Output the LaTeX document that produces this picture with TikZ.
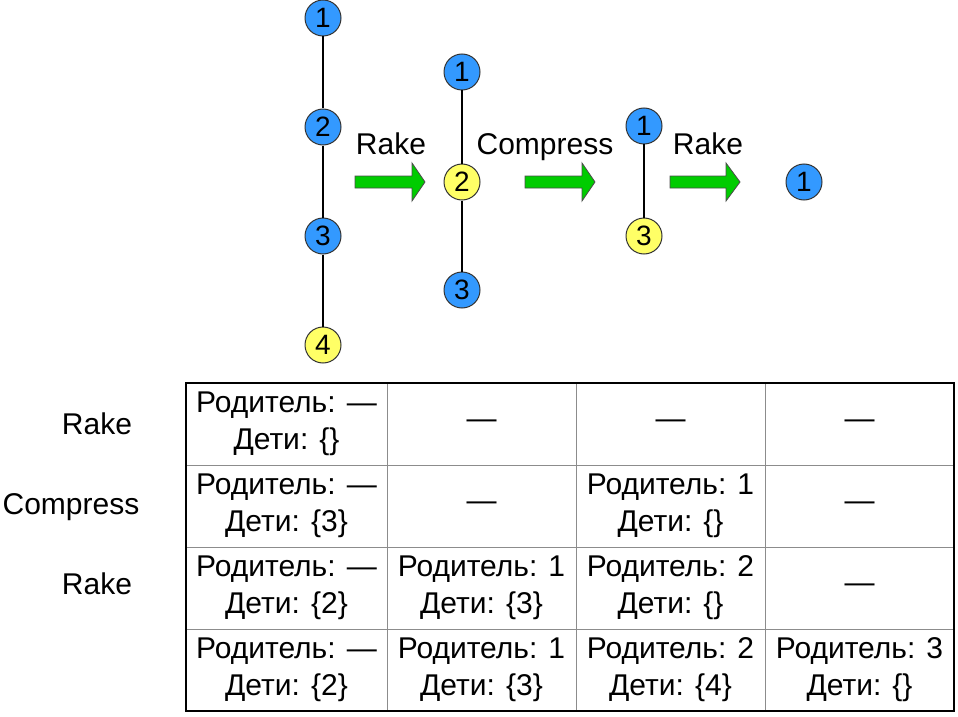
\documentclass[tikz,border=0pt]{standalone}
\usepackage{fontspec}
\setmainfont{Liberation Sans}
\definecolor{nodeblue}{RGB}{51,153,255}
\definecolor{nodeyellow}{RGB}{255,255,102}
\definecolor{arrowgreen}{RGB}{0,204,0}
\definecolor{gridgray}{RGB}{140,140,140}
\tikzset{
  bnode/.style={circle, draw=black!80, line width=0.5pt, fill=nodeblue, minimum size=18pt, inner sep=0pt, font=\fontsize{14}{16}\selectfont},
  ynode/.style={bnode, fill=nodeyellow},
  edge/.style={line width=1.3pt},
  garrow/.style={fill=arrowgreen, draw=black!70, line width=0.4pt},
  cell/.style={align=center, font=\fontsize{15}{18.5}\selectfont},
  lbl/.style={anchor=base, font=\fontsize{15}{18}\selectfont}
}
\begin{document}
\begin{tikzpicture}[x=0.5pt, y=-0.5pt]
        \useasboundingbox (0,0) rectangle (958,717);

        % 第一棵树
        \node[bnode] (a1) at (323,18) {1};
        \node[bnode] (a2) at (323,127) {2};
        \node[bnode] (a3) at (323,236) {3};
        \node[ynode] (a4) at (323,345) {4};
        \draw[edge] (a1) -- (a2);
        \draw[edge] (a2) -- (a3);
        \draw[edge] (a3) -- (a4);

        % 第二棵树
        \node[bnode] (b1) at (462,72) {1};
        \node[ynode] (b2) at (462,182) {2};
        \node[bnode] (b3) at (462,290) {3};
        \draw[edge] (b1) -- (b2);
        \draw[edge] (b2) -- (b3);

        % 第三棵树
        \node[bnode] (c1) at (644,126) {1};
        \node[ynode] (c3) at (644,236) {3};
        \draw[edge] (c1) -- (c3);

        % 最后只剩根
        \node[bnode] (d1) at (804,182) {1};

        % 绿色箭头
        \filldraw[garrow] (355,176) -- (412,176) -- (412,163) -- (425,182) -- (412,201) -- (412,188) -- (355,188) -- cycle; % Rake
        \filldraw[garrow] (525,176) -- (582,176) -- (582,163) -- (595,182) -- (582,201) -- (582,188) -- (525,188) -- cycle; % Compress
        \filldraw[garrow] (670,176) -- (726,176) -- (726,163) -- (740,182) -- (726,201) -- (726,188) -- (670,188) -- cycle; % Rake

        % 箭头上的标签
        \node[lbl] (op1) at (391,155) {Rake};
        \node[lbl] (op2) at (545,155) {Compress};
        \node[lbl] (op3) at (708,155) {Rake};

        % 表格
        \draw[gridgray, line width=0.5pt] (186,465) -- (954,465);
        \draw[gridgray, line width=0.5pt] (186,547) -- (954,547);
        \draw[gridgray, line width=0.5pt] (186,629) -- (954,629);
        \draw[gridgray, line width=0.5pt] (387,383) -- (387,711);
        \draw[gridgray, line width=0.5pt] (576,383) -- (576,711);
        \draw[gridgray, line width=0.5pt] (765,383) -- (765,711);
        \draw[line width=0.8pt] (186,383) rectangle (954,711);

        % 第一行
        \node[cell] (r1c1) at (286.5,424) {Родитель: —\\Дети: \{\}};
        \node[cell] (r1c2) at (481.5,424) {—};
        \node[cell] (r1c3) at (670.5,424) {—};
        \node[cell] (r1c4) at (859.5,424) {—};

        % 第二行
        \node[cell] (r2c1) at (286.5,506) {Родитель: —\\Дети: \{3\}};
        \node[cell] (r2c2) at (481.5,506) {—};
        \node[cell] (r2c3) at (670.5,506) {Родитель: 1\\Дети: \{\}};
        \node[cell] (r2c4) at (859.5,506) {—};

        % 第三行
        \node[cell] (r3c1) at (286.5,588) {Родитель: —\\Дети: \{2\}};
        \node[cell] (r3c2) at (481.5,588) {Родитель: 1\\Дети: \{3\}};
        \node[cell] (r3c3) at (670.5,588) {Родитель: 2\\Дети: \{\}};
        \node[cell] (r3c4) at (859.5,588) {—};

        % 第四行
        \node[cell] (r4c1) at (286.5,670) {Родитель: —\\Дети: \{2\}};
        \node[cell] (r4c2) at (481.5,670) {Родитель: 1\\Дети: \{3\}};
        \node[cell] (r4c3) at (670.5,670) {Родитель: 2\\Дети: \{4\}};
        \node[cell] (r4c4) at (859.5,670) {Родитель: 3\\Дети: \{\}};

        % 左边的行标签
        \node[lbl] (row1) at (97,434) {Rake};
        \node[lbl] (row2) at (71,514) {Compress};
        \node[lbl] (row3) at (97,594) {Rake};

    \end{tikzpicture}
\end{document}
